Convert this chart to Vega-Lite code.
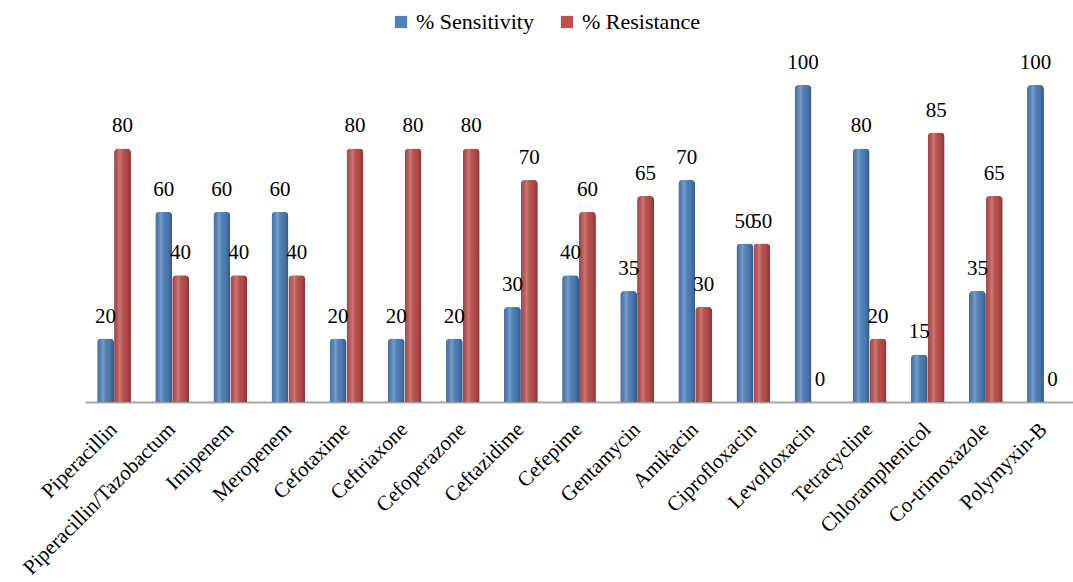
{
  "$schema": "https://vega.github.io/schema/vega-lite/v6.json",
  "width": 988,
  "height": 317,
  "autosize": "none",
  "padding": {"left": 85, "top": 85, "right": 0, "bottom": 180},
  "background": "white",
  "config": {"view": {"stroke": null}, "font": "Liberation Serif"},
  "data": {
    "values": [
      {"drug": "Piperacillin", "series": "% Sensitivity", "value": 20},
      {"drug": "Piperacillin", "series": "% Resistance", "value": 80},
      {"drug": "Piperacillin/Tazobactum", "series": "% Sensitivity", "value": 60},
      {"drug": "Piperacillin/Tazobactum", "series": "% Resistance", "value": 40},
      {"drug": "Imipenem", "series": "% Sensitivity", "value": 60},
      {"drug": "Imipenem", "series": "% Resistance", "value": 40},
      {"drug": "Meropenem", "series": "% Sensitivity", "value": 60},
      {"drug": "Meropenem", "series": "% Resistance", "value": 40},
      {"drug": "Cefotaxime", "series": "% Sensitivity", "value": 20},
      {"drug": "Cefotaxime", "series": "% Resistance", "value": 80},
      {"drug": "Ceftriaxone", "series": "% Sensitivity", "value": 20},
      {"drug": "Ceftriaxone", "series": "% Resistance", "value": 80},
      {"drug": "Cefoperazone", "series": "% Sensitivity", "value": 20},
      {"drug": "Cefoperazone", "series": "% Resistance", "value": 80},
      {"drug": "Ceftazidime", "series": "% Sensitivity", "value": 30},
      {"drug": "Ceftazidime", "series": "% Resistance", "value": 70},
      {"drug": "Cefepime", "series": "% Sensitivity", "value": 40},
      {"drug": "Cefepime", "series": "% Resistance", "value": 60},
      {"drug": "Gentamycin", "series": "% Sensitivity", "value": 35},
      {"drug": "Gentamycin", "series": "% Resistance", "value": 65},
      {"drug": "Amikacin", "series": "% Sensitivity", "value": 70},
      {"drug": "Amikacin", "series": "% Resistance", "value": 30},
      {"drug": "Ciprofloxacin", "series": "% Sensitivity", "value": 50},
      {"drug": "Ciprofloxacin", "series": "% Resistance", "value": 50},
      {"drug": "Levofloxacin", "series": "% Sensitivity", "value": 100},
      {"drug": "Levofloxacin", "series": "% Resistance", "value": 0},
      {"drug": "Tetracycline", "series": "% Sensitivity", "value": 80},
      {"drug": "Tetracycline", "series": "% Resistance", "value": 20},
      {"drug": "Chloramphenicol", "series": "% Sensitivity", "value": 15},
      {"drug": "Chloramphenicol", "series": "% Resistance", "value": 85},
      {"drug": "Co-trimoxazole", "series": "% Sensitivity", "value": 35},
      {"drug": "Co-trimoxazole", "series": "% Resistance", "value": 65},
      {"drug": "Polymyxin-B", "series": "% Sensitivity", "value": 100},
      {"drug": "Polymyxin-B", "series": "% Resistance", "value": 0}
    ]
  },
  "encoding": {
    "x": {
      "field": "drug", "type": "nominal", "sort": null,
      "scale": {"paddingInner": 0, "paddingOuter": 0},
      "axis": {
        "title": null, "ticks": false, "labelAngle": -45, "labelAlign": "right", "labelBaseline": "middle",
        "labelFont": "Liberation Serif", "labelFontSize": 21, "labelColor": "black", "labelPadding": 24,
        "domainColor": "#a6a6a6", "domainWidth": 2, "labelLimit": 400
      }
    },
    "xOffset": {
      "field": "series", "type": "nominal", "sort": ["% Sensitivity", "% Resistance"],
      "scale": {"paddingInner": 0, "paddingOuter": 0.72}
    },
    "y": {"field": "value", "type": "quantitative", "scale": {"domain": [0, 100]}, "axis": null}
  },
  "layer": [
    {
      "mark": {"type": "bar", "cornerRadiusTopLeft": 4, "cornerRadiusTopRight": 4},
      "encoding": {
        "color": {
          "field": "series", "type": "nominal", "sort": ["% Sensitivity", "% Resistance"],
          "scale": {"domain": ["% Sensitivity", "% Resistance"], "range": ["#4f81bd", "#c0504d"]},
          "legend": {
            "title": null, "orient": "none", "legendX": 305, "legendY": -74, "direction": "horizontal",
            "symbolType": "square", "symbolSize": 150, "labelFont": "Liberation Serif", "labelFontSize": 22,
            "labelColor": "black", "columnPadding": 22, "labelOffset": 4
          }
        }
      }
    },
    {
      "mark": {
        "type": "bar", "cornerRadiusTopLeft": 4, "cornerRadiusTopRight": 4,
        "fill": {
          "gradient": "linear", "x1": 0, "y1": 0, "x2": 1, "y2": 0,
          "stops": [
            {"offset": 0, "color": "rgba(0,0,0,0.12)"},
            {"offset": 0.35, "color": "rgba(255,255,255,0.22)"},
            {"offset": 0.7, "color": "rgba(0,0,0,0.05)"},
            {"offset": 1, "color": "rgba(0,0,0,0.3)"}
          ]
        }
      }
    },
    {
      "mark": {"type": "text", "font": "Liberation Serif", "fontSize": 21, "color": "black", "baseline": "bottom", "dy": -12},
      "encoding": {"text": {"field": "value", "type": "quantitative"}}
    }
  ]
}
